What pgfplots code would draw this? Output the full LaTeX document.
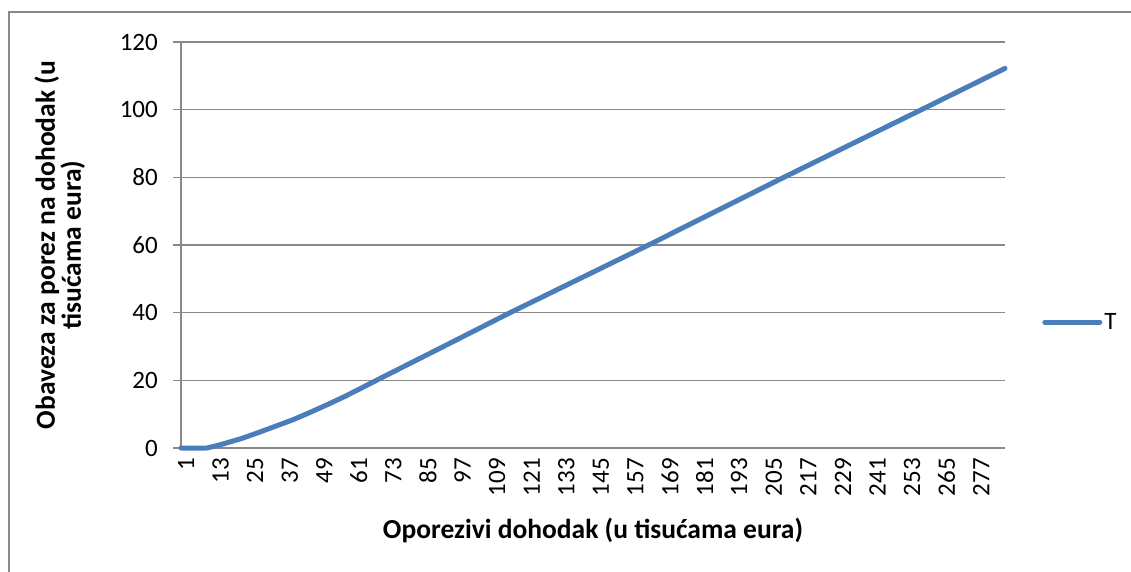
\documentclass[border=0pt]{standalone}
\usepackage{fontspec}
\setmainfont{Carlito}
\usepackage{pgfplots}
\pgfplotsset{compat=1.18}

\definecolor{lineblue}{HTML}{4A7EBB}
\definecolor{gridgray}{HTML}{898989}

\begin{document}
\begin{tikzpicture}[x=1pt,y=1pt]
\useasboundingbox (0,0) rectangle (1131,571);
% outer chart frame (only top and left edges fall inside the image)
\draw[gridgray, line width=1.4pt] (9,-20) -- (9,559) -- (1160,559);
\begin{axis}[
    at={(181pt,123pt)}, anchor=south west,
    scale only axis,
    width=824pt, height=406pt,
    xmin=1, xmax=287,
    ymin=0, ymax=120,
    xtick={1,13,...,277},
    ytick={0,20,...,120},
    axis x line=bottom, axis y line=left,
    axis line style={gridgray, line width=1.3pt, -},
    ymajorgrids,
    grid style={gridgray, line width=1.3pt},
    x tick style={draw=none},
    y tick style={gridgray, line width=1.3pt},
    major tick length=8pt,
    tick align=outside,
    /pgf/number format/assume math mode=true,
    tick label style={font=\fontsize{25}{29}\selectfont},
    xticklabel style={rotate=90, anchor=east, inner sep=2pt, yshift=-5pt},
    yticklabel style={inner sep=2pt, xshift=-13pt},
    xlabel={Oporezivi dohodak (u tisućama eura)},
    ylabel={Obaveza za porez na dohodak (u\\tisućama eura)},
    label style={font=\bfseries\fontsize{27.5}{26}\selectfont},
    xlabel style={at={(axis description cs:0.5,-0.202)}, anchor=center},
    ylabel style={at={(axis description cs:-0.147,0.5)}, anchor=center, align=center},
    legend style={at={(axis description cs:1.045,0.31)}, anchor=west, draw=none, fill=none,
        font=\fontsize{25}{29}\selectfont, inner sep=0pt},
    legend image code/.code={\draw[#1, line cap=round] (0pt,0pt) -- (55pt,0pt);},
    clip=false,
]
\addplot[color=lineblue, line width=5pt, line cap=round, line join=round] coordinates {
    (1,0) (10,0) (13,0.6) (16,1.3) (22,2.8) (28,4.6) (34,6.5) (40,8.4) (46,10.6)
    (52,12.9) (58,15.3) (64,17.9) (70,20.5) (80,24.8) (90,29.1) (115,39.9)
    (164,60.3) (210,79.9) (258,100.0) (287,112.2)
};
\legend{T}
\end{axis}
\end{tikzpicture}
\end{document}
